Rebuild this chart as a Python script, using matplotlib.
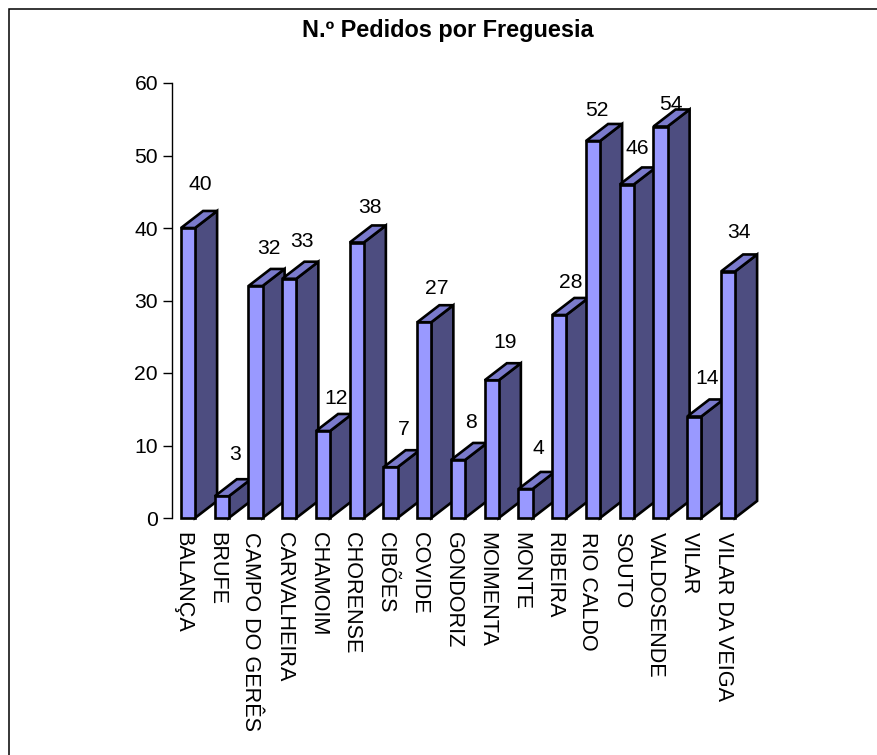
import matplotlib.pyplot as plt
from matplotlib.patches import Polygon, Rectangle
from matplotlib.transforms import ScaledTranslation

plt.rcParams['font.family'] = ['Liberation Sans', 'DejaVu Sans']

freguesias = ['BALANÇA', 'BRUFE', 'CAMPO DO GERÊS', 'CARVALHEIRA', 'CHAMOIM', 'CHORENSE',
              'CIBÕES', 'COVIDE', 'GONDORIZ', 'MOIMENTA', 'MONTE', 'RIBEIRA', 'RIO CALDO',
              'SOUTO', 'VALDOSENDE', 'VILAR', 'VILAR DA VEIGA']
pedidos = [40, 3, 32, 33, 12, 38, 7, 27, 8, 19, 4, 28, 52, 46, 54, 14, 34]

# how far each value label sits from its bar top, in pixels (layout only)
label_lift = [43, 42, 38, 37, 33, 35, 38, 34, 37, 38, 41, 33, 30, 36, 22, 38, 39]
label_shift = [12, 13, 13, 13, 13, 13, 13, 13, 13, 13, 13, 11, 4, 11, 10, 13, 11]

W, H = 877, 755
BAR_W = 0.415
DEPTH_X = 0.655
DEPTH_Y = 2.35
FRONT = '#9999ff'
TOP = '#7a7acc'
SIDE = '#4d4d80'
PX = 72 / 100  # points per pixel at dpi 100

fig = plt.figure(figsize=(W / 100, H / 100), dpi=100)

# chart frame, runs off the right and bottom of the picture
fig.add_artist(Rectangle((9.2 / W, -0.01), 1.1, 1 - 9.0 / H + 0.01, transform=fig.transFigure,
                         fill=False, edgecolor='black', linewidth=1.1))

# axes placed in pixels: y axis at x=171.5, 0 at y=518, 60 at y=83
left, right = 171.5, 776.0
ax = fig.add_axes([left / W, (H - 518) / H, (right - left) / W, (518 - 83) / H])
ax.set_xlim((left - 188) / 33.75, (right - 188) / 33.75)
ax.set_ylim(0, 60)
ax.patch.set_alpha(0)

for i, v in enumerate(pedidos):
    x0 = i - BAR_W / 2
    x1 = i + BAR_W / 2
    side = [(x1, 0), (x1 + DEPTH_X, DEPTH_Y), (x1 + DEPTH_X, v + DEPTH_Y), (x1, v)]
    top = [(x0, v), (x0 + DEPTH_X, v + DEPTH_Y), (x1 + DEPTH_X, v + DEPTH_Y), (x1, v)]
    front = [(x0, 0), (x1, 0), (x1, v), (x0, v)]
    for pts, c in [(side, SIDE), (top, TOP), (front, FRONT)]:
        ax.add_patch(Polygon(pts, closed=True, facecolor=c, edgecolor='black', linewidth=1.9,
                             joinstyle='miter', clip_on=False))
    ax.annotate(str(v), (i, v), xytext=(label_shift[i] * PX, label_lift[i] * PX),
                textcoords='offset points', ha='center', va='center', fontsize=15.2,
                annotation_clip=False, zorder=5)

for s in ['top', 'right', 'bottom']:
    ax.spines[s].set_visible(False)
ax.spines['left'].set_linewidth(1.0)
ax.set_yticks(range(0, 61, 10))
ax.tick_params(axis='y', length=6.8, width=1.0, labelsize=15.2, pad=2.9)
ax.set_xticks(range(len(freguesias)))
ax.set_xticklabels(freguesias, rotation=-90, ha='center', va='top', fontsize=15.6)
ax.tick_params(axis='x', length=0, pad=10)

# rotated labels sit a little left of the bar centre
nudge = ScaledTranslation(-5 / 100, 0, fig.dpi_scale_trans)
for lab in ax.get_xticklabels():
    lab.set_transform(lab.get_transform() + nudge)

fig.text(447.5 / W, 1 - 30.5 / H, 'N.º Pedidos por Freguesia', ha='center', va='center',
         fontsize=16.9, fontweight='bold')

fig.savefig('out.png', dpi=100)
